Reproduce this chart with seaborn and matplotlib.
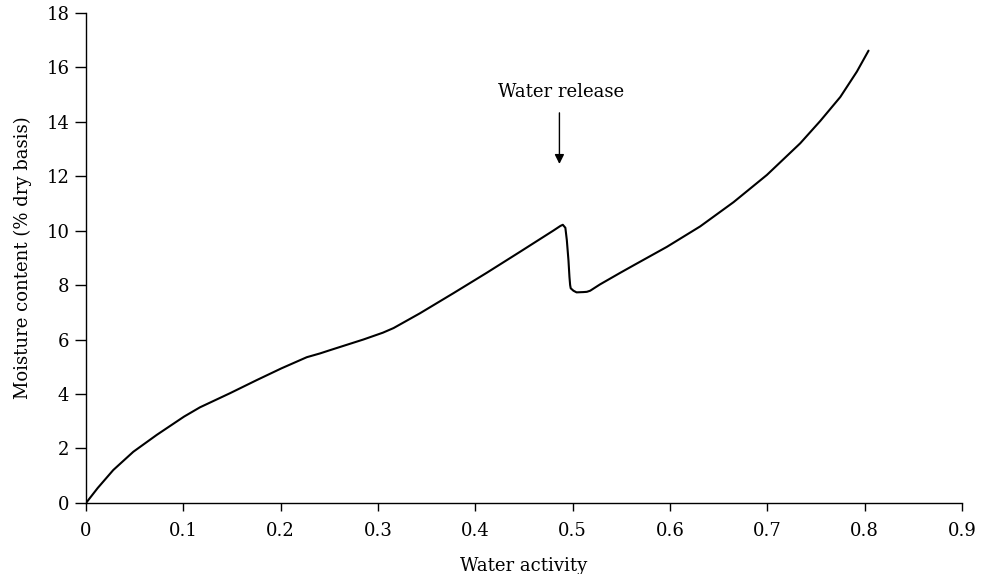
import numpy as np
import pandas as pd
import matplotlib
matplotlib.use("Agg")
import matplotlib.pyplot as plt
import seaborn as sns

# Sorption isotherm
water_activity = [0.0, 0.012, 0.028, 0.0486, 0.0727, 0.1007, 0.117, 0.148, 0.1754,
                  0.2007, 0.2268, 0.2405, 0.2508, 0.285, 0.305, 0.316, 0.343, 0.3775,
                  0.4118, 0.446, 0.4803, 0.4875, 0.4899, 0.4925, 0.494, 0.4957,
                  0.4967, 0.4974, 0.498, 0.5008, 0.504, 0.511, 0.5146, 0.518,
                  0.528, 0.549, 0.5625, 0.5968, 0.631, 0.6653, 0.6996, 0.7338,
                  0.7544, 0.775, 0.792, 0.804]
moisture = [0.0, 0.55, 1.21, 1.88, 2.50, 3.17, 3.51, 4.03, 4.51,
            4.94, 5.35, 5.49, 5.61, 6.0, 6.25, 6.42, 6.96, 7.70,
            8.45, 9.22, 10.0, 10.17, 10.21, 10.10, 9.65, 8.90,
            8.30, 8.00, 7.88, 7.79, 7.73, 7.74, 7.75, 7.79,
            8.02, 8.45, 8.72, 9.40, 10.15, 11.04, 12.04, 13.2,
            14.02, 14.9, 15.83, 16.6]

x_ticks = [0, 0.1, 0.2, 0.3, 0.4, 0.5, 0.6, 0.7, 0.8, 0.9]
x_tick_labels = ["0", "0.1", "0.2", "0.3", "0.4", "0.5", "0.6", "0.7", "0.8", "0.9"]
y_ticks = [0, 2, 4, 6, 8, 10, 12, 14, 16, 18]

annot_text = "Water release"
annot_x = 0.4864
annot_tail_y = 14.42
annot_tip_y = 12.34

df = pd.DataFrame({"aw": water_activity, "mc": moisture})

sns.set_style("ticks")
plt.rcParams["font.family"] = ["DejaVu Serif"]
plt.rcParams["text.color"] = "black"
plt.rcParams["axes.labelcolor"] = "black"

fig = plt.figure(figsize=(9.82, 5.74), dpi=100)
ax = fig.add_axes([0.0876, 0.1237, 0.892, 0.8545])

sns.lineplot(data=df, x="aw", y="mc", sort=False, color="black", linewidth=1.5, ax=ax)

ax.set_xlim(0, 0.9)
ax.set_ylim(0, 18)
ax.set_xticks(x_ticks)
ax.set_xticklabels(x_tick_labels)
ax.set_yticks(y_ticks)
ax.tick_params(axis="both", direction="out", length=6, width=1, colors="black",
               labelsize=13)
ax.tick_params(axis="x", pad=8)
ax.tick_params(axis="y", pad=4, length=8)
for side in ["top", "right"]:
    ax.spines[side].set_visible(False)
for side in ["left", "bottom"]:
    ax.spines[side].set_color("black")
    ax.spines[side].set_linewidth(1)

ax.set_xlabel("Water activity", fontsize=13, labelpad=12)
ax.set_ylabel("Moisture content (% dry basis)", fontsize=13, labelpad=10)

ax.annotate("", xy=(annot_x, annot_tip_y), xytext=(annot_x, annot_tail_y),
            arrowprops=dict(arrowstyle="-|>", color="black", lw=1, mutation_scale=14))
ax.text(annot_x + 0.0015, annot_tail_y + 0.65, annot_text, ha="center", va="center", fontsize=13)

fig.savefig("out.png", dpi=100)
